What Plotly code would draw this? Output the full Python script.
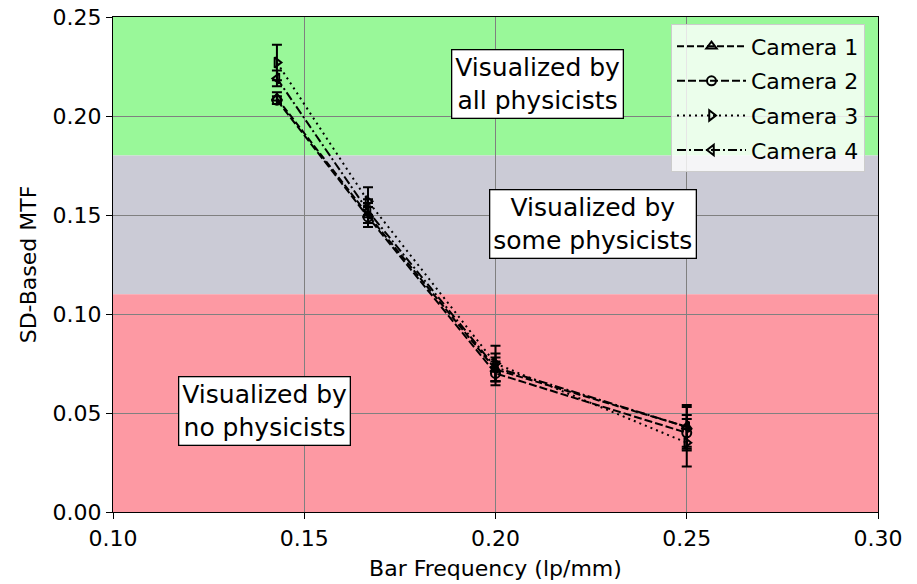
import plotly.graph_objects as go

freq = [1/7, 1/6, 0.2, 0.25]
cameras = ["Camera 1", "Camera 2", "Camera 3", "Camera 4"]
mtf = {
    "Camera 1": [0.209, 0.150, 0.072, 0.043],
    "Camera 2": [0.208, 0.149, 0.070, 0.040],
    "Camera 3": [0.227, 0.157, 0.075, 0.035],
    "Camera 4": [0.219, 0.152, 0.073, 0.043],
}
err = {
    "Camera 1": [0.003, 0.006, 0.006, 0.010],
    "Camera 2": [0.002, 0.005, 0.006, 0.009],
    "Camera 3": [0.009, 0.007, 0.009, 0.012],
    "Camera 4": [0.004, 0.006, 0.007, 0.011],
}
bands = [(0.18, 0.25, "#99f899"), (0.11, 0.18, "#cbcbd6"), (0.0, 0.11, "#fd99a3")]
labels = [
    (0.211, 0.216, "Visualized by<br>all physicists"),
    (0.2255, 0.1455, "Visualized by<br>some physicists"),
    (0.1395, 0.051, "Visualized by<br>no physicists"),
]
symbols = {"Camera 1": "triangle-up-open", "Camera 2": "circle-open",
           "Camera 3": "triangle-right-open", "Camera 4": "triangle-left-open"}
dashes = {"Camera 1": "7px,3px", "Camera 2": "8px,3px", "Camera 3": "2px,4px",
          "Camera 4": "9px,3px,2px,3px"}

fig = go.Figure()
for lo, hi, col in bands:
    fig.add_shape(type="rect", xref="x", yref="y", x0=0.10, x1=0.30, y0=lo, y1=hi,
                  fillcolor=col, line_width=0, layer="below")

for c in cameras:
    fig.add_trace(go.Scatter(
        x=freq, y=mtf[c], name=c, mode="lines+markers", legendgroup=c,
        line=dict(color="black", width=2, dash=dashes[c]),
        marker=dict(symbol=symbols[c], size=9, color="black", line=dict(width=2, color="black")),
        error_y=dict(type="data", array=err[c], color="black", thickness=2, width=5),
    ))

for x, y, t in labels:
    fig.add_annotation(x=x, y=y, text=t, showarrow=False,
                       font=dict(size=25, color="black", family="DejaVu Sans"),
                       bgcolor="white", bordercolor="black", borderwidth=1.3, borderpad=3)

fig.update_layout(
    width=917, height=584,
    margin=dict(l=113, r=39, t=17, b=72),
    paper_bgcolor="white", plot_bgcolor="white",
    font=dict(family="DejaVu Sans", size=22, color="black"),
    legend=dict(x=0.983, y=0.985, xanchor="right", yanchor="top",
                bgcolor="rgba(255,255,255,0.8)", bordercolor="#cccccc", borderwidth=1,
                font=dict(size=22), tracegroupgap=3, traceorder="grouped", itemwidth=69),
    showlegend=True,
)
fig.update_xaxes(range=[0.10, 0.30], tickvals=[0.10, 0.15, 0.20, 0.25, 0.30],
                 ticktext=["0.10", "0.15", "0.20", "0.25", "0.30"],
                 showgrid=True, gridcolor="#808080", gridwidth=1.3, automargin=False,
                 showline=True, linecolor="black", linewidth=1.3, mirror=True,
                 ticks="outside", ticklen=6, tickcolor="black", zeroline=False,
                 title=dict(text="Bar Frequency (lp/mm)", standoff=11, font=dict(size=22)))
fig.update_yaxes(range=[0.0, 0.25], tickvals=[0.0, 0.05, 0.10, 0.15, 0.20, 0.25],
                 ticktext=["0.00", "0.05", "0.10", "0.15", "0.20", "0.25"],
                 showgrid=True, gridcolor="#808080", gridwidth=1.3, automargin=False,
                 showline=True, linecolor="black", linewidth=1.3, mirror=True,
                 ticks="outside", ticklen=6, tickcolor="black", zeroline=False,
                 title=dict(text="SD-Based MTF", standoff=9, font=dict(size=22)))

fig.write_html("out.html", config={"displayModeBar": False},
               post_script="document.body.style.margin='0';")
